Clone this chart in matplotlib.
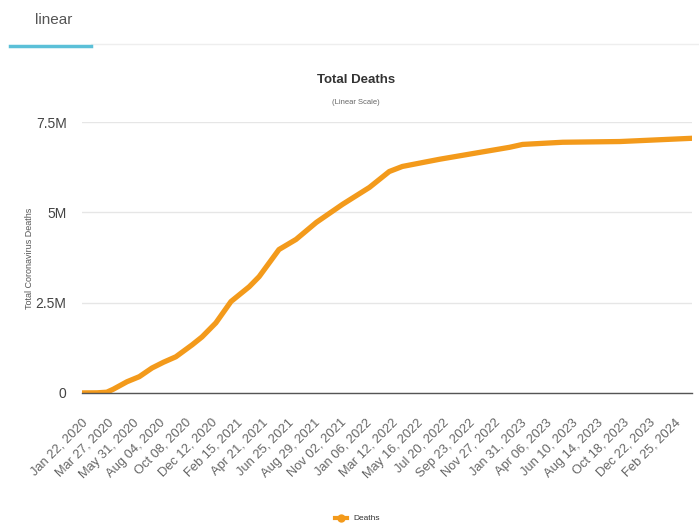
import datetime as dt
import numpy as np
import matplotlib
matplotlib.use("Agg")
import matplotlib.pyplot as plt
from matplotlib.lines import Line2D

plt.rcParams['font.family'] = ['Liberation Sans', 'DejaVu Sans']

# data ------------------------------------------------------------------------

dates = ['2020-01-22', '2020-03-01', '2020-03-25', '2020-04-10', '2020-05-15',
         '2020-06-15', '2020-07-17', '2020-08-15', '2020-09-15', '2020-10-26',
         '2020-11-20', '2020-12-25', '2021-02-01', '2021-03-19', '2021-04-13',
         '2021-06-02', '2021-07-15', '2021-09-04', '2021-11-09', '2022-01-16',
         '2022-03-07', '2022-04-09', '2022-07-12', '2022-10-21', '2023-01-04',
         '2023-02-06', '2023-05-18', '2023-10-09', '2024-04-08']
deaths = [0, 3000, 20000, 100000, 310000,
          450000, 690000, 850000, 1000000, 1330000,
          1550000, 1940000, 2530000, 2940000, 3220000,
          3970000, 4250000, 4720000, 5220000, 5690000,
          6130000, 6270000, 6470000, 6660000, 6800000,
          6880000, 6940000, 6960000, 7050000]

tick_labels = ['Jan 22, 2020', 'Mar 27, 2020', 'May 31, 2020', 'Aug 04, 2020',
               'Oct 08, 2020', 'Dec 12, 2020', 'Feb 15, 2021', 'Apr 21, 2021',
               'Jun 25, 2021', 'Aug 29, 2021', 'Nov 02, 2021', 'Jan 06, 2022',
               'Mar 12, 2022', 'May 16, 2022', 'Jul 20, 2022', 'Sep 23, 2022',
               'Nov 27, 2022', 'Jan 31, 2023', 'Apr 06, 2023', 'Jun 10, 2023',
               'Aug 14, 2023', 'Oct 18, 2023', 'Dec 22, 2023', 'Feb 25, 2024']

y_ticks = [0, 2500000, 5000000, 7500000]
y_tick_labels = ['0', '2.5M', '5M', '7.5M']

# plot ------------------------------------------------------------------------

x = [dt.datetime.strptime(d, '%Y-%m-%d') for d in dates]
tick_pos = [dt.datetime.strptime(t, '%b %d, %Y') for t in tick_labels]

fig = plt.figure(figsize=(6.99, 5.26), dpi=100)
ax = fig.add_axes([0.117, 0.253, 0.873, 0.515])

ax.plot(x, deaths, color='#f39a1b', lw=3.8, solid_capstyle='round',
        solid_joinstyle='round')

ax.set_xlim(x[0], x[-1])
ax.set_ylim(0, 7500000)
ax.set_yticks(y_ticks)
ax.set_yticklabels(y_tick_labels, fontsize=10, color='#444444')
ax.set_xticks(tick_pos)
ax.set_xticklabels(tick_labels, rotation=45, ha='right', rotation_mode='anchor',
                   fontsize=9.3, color='#666666')
ax.tick_params(axis='both', length=0)
ax.tick_params(axis='x', pad=17)
ax.tick_params(axis='y', pad=11)

ax.grid(axis='y', color='#e6e6e6', lw=1)
ax.set_axisbelow(True)
for s in ['top', 'right', 'left']:
    ax.spines[s].set_visible(False)
ax.spines['bottom'].set_color('#555555')
ax.spines['bottom'].set_linewidth(1)

ax.set_ylabel('Total Coronavirus Deaths', fontsize=6.5, color='#555555')
ax.yaxis.set_label_coords(-0.079, 0.495)

# titles
fig.text(0.509, 0.848, 'Total Deaths', ha='center', va='center', fontsize=9.5,
         fontweight='bold', color='#333333')
fig.text(0.509, 0.806, '(Linear Scale)', ha='center', va='center', fontsize=5.5,
         color='#666666')

# tab header
fig.text(0.05, 0.962, 'linear', ha='left', va='center', fontsize=11, color='#555555')
fig.add_artist(Line2D([91 / 699, 1], [1 - 44 / 526] * 2, color='#eeeeee', lw=1))
fig.add_artist(Line2D([10 / 699, 91 / 699], [1 - 46 / 526] * 2, color='#5bc0d8', lw=2.5))

# legend
fig.add_artist(Line2D([0.479, 0.497], [0.015, 0.015], color='#f39a1b', lw=3))
fig.add_artist(Line2D([0.488], [0.015], color='#f39a1b', marker='o', ms=6,
                      markeredgewidth=0))
fig.text(0.505, 0.015, 'Deaths', ha='left', va='center', fontsize=6, color='#333333')

fig.savefig('out.png', dpi=100)
